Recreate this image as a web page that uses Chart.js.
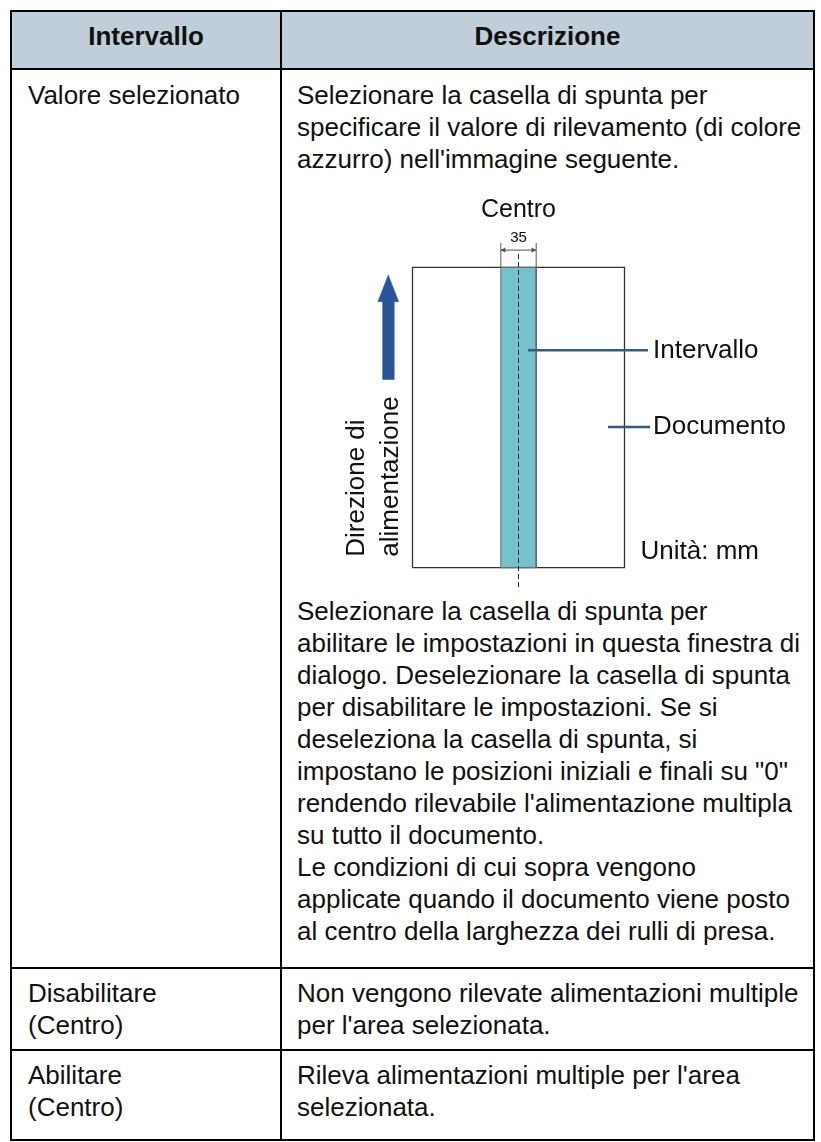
<!DOCTYPE html>
<html>
<head>
<meta charset="utf-8">
<script src="https://cdn.jsdelivr.net/npm/chart.js@4.4.1/dist/chart.umd.min.js"></script>
<style>
body { margin: 0; background: #fff; font-family: "Liberation Sans", Arial, sans-serif; color: #111; }
#page { position: relative; width: 821px; height: 1142px; overflow: hidden; }
.h { position: absolute; height: 2px; background: #000; }
.v { position: absolute; width: 2px; background: #000; }
.t { position: absolute; font-size: 26px; line-height: 32px; white-space: nowrap; }
.hd { position: absolute; top: 20px; font-size: 26px; font-weight: bold; line-height: 32px; text-align: center; }
#diagram { position: absolute; left: 330px; top: 185px; }
</style>
</head>
<body>
<div id="page">
  <div style="position:absolute;left:10px;top:10px;width:805px;height:59px;background:#BFCED8"></div>

  <div class="hd" style="left:12px;width:268px">Intervallo</div>
  <div class="hd" style="left:282px;width:531px">Descrizione</div>

  <div class="t" style="left:28px;top:79px">Valore selezionato</div>
  <div class="t" style="left:297px;top:79px">Selezionare la casella di spunta per<br>specificare il valore di rilevamento (di colore<br>azzurro) nell'immagine seguente.</div>

  <canvas id="diagram" width="480" height="410"></canvas>

  <div class="t" style="left:297px;top:595px">Selezionare la casella di spunta per<br>abilitare le impostazioni in questa finestra di<br>dialogo. Deselezionare la casella di spunta<br>per disabilitare le impostazioni. Se si<br>deseleziona la casella di spunta, si<br>impostano le posizioni iniziali e finali su "0"<br>rendendo rilevabile l'alimentazione multipla<br>su tutto il documento.<br>Le condizioni di cui sopra vengono<br>applicate quando il documento viene posto<br>al centro della larghezza dei rulli di presa.</div>

  <div class="t" style="left:28px;top:977px">Disabilitare<br>(Centro)</div>
  <div class="t" style="left:297px;top:977px">Non vengono rilevate alimentazioni multiple<br>per l'area selezionata.</div>

  <div class="t" style="left:28px;top:1059px">Abilitare<br>(Centro)</div>
  <div class="t" style="left:297px;top:1059px">Rileva alimentazioni multiple per l'area<br>selezionata.</div>

  <div class="h" style="left:10px;top:10px;width:805px"></div>
  <div class="h" style="left:10px;top:68px;width:805px"></div>
  <div class="h" style="left:10px;top:967px;width:805px"></div>
  <div class="h" style="left:10px;top:1049px;width:805px"></div>
  <div class="h" style="left:10px;top:1139px;width:805px"></div>
  <div class="v" style="left:10px;top:10px;height:1131px"></div>
  <div class="v" style="left:280px;top:10px;height:1131px"></div>
  <div class="v" style="left:813px;top:10px;height:1131px"></div>
</div>

<script>
// sheet of paper in mm (A4), x centred on the feed axis
const sheetX = [-105, 105];
const sheetY = [0, 297];
// detection band, 35 mm wide around the centre
const bandX = [-17.5, 17.5];
const bandWidthLabel = '35';
const centreLineY = [-19, 311];
const dimLineY = 314;
const extLineY = [297, 321];
// feed direction arrow (mm)
const arrowX = -129;
const arrowShaftHalf = 5.6;
const arrowHeadHalf = 10.3;
const arrowY = [186, 263, 289.5]; // tail, head base, tip
// callout leaders
const intervalloLeaderX = [9.4, 128.3];
const intervalloLeaderY = 215;
const documentoLeaderX = [88.7, 130.3];
const documentoLeaderY = 139;
// texts
const titleLabel = 'Centro';
const calloutLabels = ['Intervallo', 'Documento'];
const unitLabel = 'Unità: mm';
const feedLabel = ['Direzione di', 'alimentazione'];

// room around the sheet inside the canvas (px)
var margin = {left: 82.5, right: 185.5, top: 82.3, bottom: 27.3};
var canvasW = 480, canvasH = 410;
var kx = (canvasW - margin.left - margin.right) / (sheetX[1] - sheetX[0]);
var ky = (canvasH - margin.top - margin.bottom) / (sheetY[1] - sheetY[0]);

function seg(x0, y0, x1, y1) {
    return [{x: x0, y: y0}, {x: x1, y: y1}]
}
function rect(xs, ys) {
    return [
        {x: xs[0], y: ys[0]}, {x: xs[0], y: ys[1]},
        {x: xs[1], y: ys[1]}, {x: xs[1], y: ys[0]},
        {x: xs[0], y: ys[0]}
    ]
}

var arrowShape = [
    {x: arrowX - arrowShaftHalf, y: arrowY[0]},
    {x: arrowX - arrowShaftHalf, y: arrowY[1]},
    {x: arrowX - arrowHeadHalf, y: arrowY[1]},
    {x: arrowX, y: arrowY[2]},
    {x: arrowX + arrowHeadHalf, y: arrowY[1]},
    {x: arrowX + arrowShaftHalf, y: arrowY[1]},
    {x: arrowX + arrowShaftHalf, y: arrowY[0]},
    {x: arrowX - arrowShaftHalf, y: arrowY[0]}
];

var fontName = '"Liberation Sans", Arial, sans-serif';

const diagramText = {
    id: 'diagramText',
    afterDatasetsDraw(chart) {
        var ctx = chart.ctx;
        var x = chart.scales.x, y = chart.scales.y;
        var top = y.getPixelForValue(sheetY[1]);
        var bottom = y.getPixelForValue(sheetY[0]);
        ctx.save();
        ctx.fillStyle = '#111';
        ctx.textBaseline = 'alphabetic';
        ctx.textAlign = 'center';
        ctx.font = '25px ' + fontName;
        ctx.fillText(titleLabel, x.getPixelForValue(0), top - 50);
        ctx.font = '15px ' + fontName;
        ctx.fillText(bandWidthLabel, x.getPixelForValue(0), top - 25);

        ctx.textAlign = 'left';
        ctx.font = '26px ' + fontName;
        ctx.fillText(calloutLabels[0], x.getPixelForValue(intervalloLeaderX[1]) + 5, y.getPixelForValue(intervalloLeaderY) + 8);
        ctx.fillText(calloutLabels[1], x.getPixelForValue(documentoLeaderX[1]) + 3, y.getPixelForValue(documentoLeaderY) + 7);
        ctx.fillText(unitLabel, x.getPixelForValue(sheetX[1]) + 16, bottom - 9);

        ctx.translate(x.getPixelForValue(sheetX[0]), bottom - 11);
        ctx.rotate(-Math.PI / 2);
        ctx.fillText(feedLabel[0], 0, -49);
        ctx.fillText(feedLabel[1], 0, -15);
        ctx.restore();
    }
};

var lineDefaults = {pointRadius: 0, pointHoverRadius: 0, tension: 0, fill: false};

var chartData = {
    datasets: [
        Object.assign({}, lineDefaults, {
            label: 'arrow', data: arrowShape, order: 0,
            fill: 'shape', backgroundColor: '#2A5699', borderColor: '#2A5699', borderWidth: 0.5
        }),
        Object.assign({}, lineDefaults, {
            label: 'dim', data: seg(bandX[0], dimLineY, bandX[1], dimLineY), order: 1,
            borderColor: '#555', borderWidth: 1
        }),
        Object.assign({}, lineDefaults, {
            label: 'dimHeads', data: [{x: bandX[0] + 3, y: dimLineY}, {x: bandX[1] - 3, y: dimLineY}], order: 1,
            showLine: false, pointRadius: 3, pointStyle: 'triangle', pointRotation: [-90, 90],
            pointBackgroundColor: '#555', pointBorderWidth: 0
        }),
        Object.assign({}, lineDefaults, {
            label: 'extL', data: seg(bandX[0], extLineY[0], bandX[0], extLineY[1]), order: 1,
            borderColor: '#555', borderWidth: 1
        }),
        Object.assign({}, lineDefaults, {
            label: 'extR', data: seg(bandX[1], extLineY[0], bandX[1], extLineY[1]), order: 1,
            borderColor: '#555', borderWidth: 1
        }),
        Object.assign({}, lineDefaults, {
            label: 'leaderIntervallo', data: seg(intervalloLeaderX[0], intervalloLeaderY, intervalloLeaderX[1], intervalloLeaderY), order: 2,
            borderColor: '#2F5F80', borderWidth: 2.5
        }),
        Object.assign({}, lineDefaults, {
            label: 'leaderDocumento', data: seg(documentoLeaderX[0], documentoLeaderY, documentoLeaderX[1], documentoLeaderY), order: 2,
            borderColor: '#2F5F80', borderWidth: 2.5
        }),
        Object.assign({}, lineDefaults, {
            label: 'centre', data: seg(0, centreLineY[0], 0, centreLineY[1]), order: 3,
            borderColor: '#222', borderWidth: 1, borderDash: [5, 3]
        }),
        Object.assign({}, lineDefaults, {
            label: 'band', data: rect(bandX, sheetY), order: 4,
            fill: 'shape', backgroundColor: '#75C1CE', borderColor: '#666', borderWidth: 1
        }),
        Object.assign({}, lineDefaults, {
            label: 'sheet', data: rect(sheetX, sheetY), order: 5,
            borderColor: '#333', borderWidth: 1.3
        })
    ]
};

var ctx = document.getElementById('diagram').getContext('2d');
var diagramChart = new Chart(ctx, {
    type: 'line',
    data: chartData,
    options: {
        responsive: false,
        animation: false,
        devicePixelRatio: 1,
        layout: { padding: 0, autoPadding: false },
        plugins: { legend: { display: false }, tooltip: { enabled: false } },
        events: [],
        scales: {
            x: { type: 'linear', display: false,
                 min: sheetX[0] - margin.left / kx, max: sheetX[1] + margin.right / kx },
            y: { type: 'linear', display: false,
                 min: sheetY[0] - margin.bottom / ky, max: sheetY[1] + margin.top / ky }
        }
    },
    plugins: [diagramText]
});
</script>
</body>
</html>
